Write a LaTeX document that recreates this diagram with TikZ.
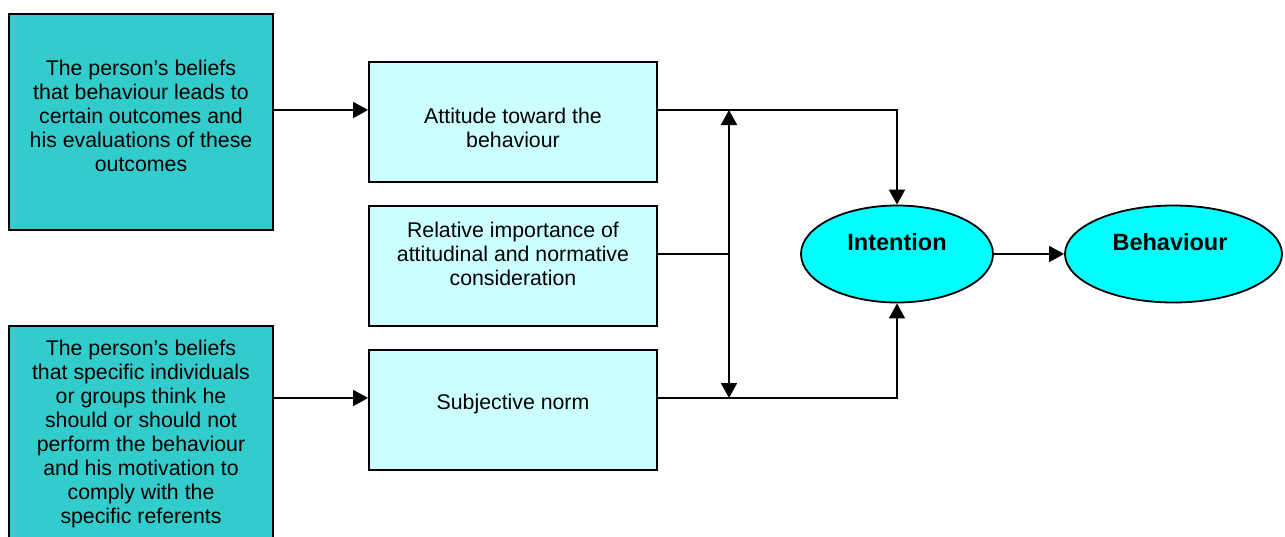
\documentclass[tikz,border=0pt]{standalone}
\usepackage{fontspec}
\setmainfont{Liberation Sans}
\usetikzlibrary{arrows.meta,shapes.geometric}
\definecolor{beliefcol}{HTML}{33CCCC}
\definecolor{factorcol}{HTML}{CCFFFF}
\definecolor{outcomecol}{HTML}{00FFFF}
\tikzset{
  belief/.style={draw=black, line width=1.8pt, fill=beliefcol, rectangle, inner sep=0pt},
  factor/.style={draw=black, line width=1.8pt, fill=factorcol, rectangle, inner sep=0pt},
  outcome/.style={draw=black, line width=1.8pt, fill=outcomecol, ellipse, inner sep=0pt},
  txt/.style={align=center, inner sep=0pt, font=\fontsize{21.3}{24}\selectfont},
  btxt/.style={txt, font=\fontsize{23.5}{24}\selectfont\bfseries},
  link/.style={draw=black, line width=1.8pt},
  arr/.style={link, -{Triangle[length=15pt,width=16pt]}},
  darr/.style={link, {Triangle[length=15pt,width=16pt]}-{Triangle[length=15pt,width=16pt]}}
}
\begin{document}
\begin{tikzpicture}[x=1pt, y=-1pt]
\useasboundingbox (0,0) rectangle (1285,536);
\clip (0,0) rectangle (1285,536);

% belief boxes on the left
\node[belief, minimum width=264pt, minimum height=216pt] (bo) at (141,122) {};
\node[belief, minimum width=264pt, minimum height=220pt] (bn) at (141,436) {};
\node[txt] (bot) at (141,116) {The person’s beliefs\\that behaviour leads to\\certain outcomes and\\his evaluations of these\\outcomes};
\node[txt] (bnt) at (141,434) {The person’s beliefs\\that specific individuals\\or groups think he\\should or should not\\perform the behaviour\\and his motivation to\\comply with the\\specific referents};

% middle factors
\node[factor, minimum width=288pt, minimum height=120pt] (att) at (513,122) {};
\node[factor, minimum width=288pt, minimum height=120pt] (rel) at (513,266) {};
\node[factor, minimum width=288pt, minimum height=120pt] (sub) at (513,410) {};
\node[txt] (attt) at (513,128) {Attitude toward the\\behaviour};
\node[txt] (relt) at (513,254) {Relative importance of\\attitudinal and normative\\consideration};
\node[txt] (subt) at (513,404) {Subjective norm};

% outcomes
\node[outcome, minimum width=192pt, minimum height=97pt] (int) at (897,254) {};
\node[outcome, minimum width=217pt, minimum height=97pt] (beh) at (1173.5,254) {};
\node[btxt] (intt) at (897,242) {Intention};
\node[btxt] (beht) at (1170,242) {Behaviour};

% routing coordinates
\coordinate (r1) at (0,110);
\coordinate (r3) at (0,254);
\coordinate (r4) at (0,398);
\coordinate (vx) at (729,0);

% connectors
\draw[arr] (bo.east |- r1) -- (att.west |- r1);
\draw[arr] (bn.east |- r4) -- (sub.west |- r4);
\draw[arr] (att.east |- r1) -| (int.north);
\draw[arr] (sub.east |- r4) -| (int.south);
\draw[link] (rel.east |- r3) -- (vx |- r3);
\draw[darr] (vx |- r1) -- (vx |- r4);
\draw[arr] (int.east) -- (beh.west);
\end{tikzpicture}
\end{document}
